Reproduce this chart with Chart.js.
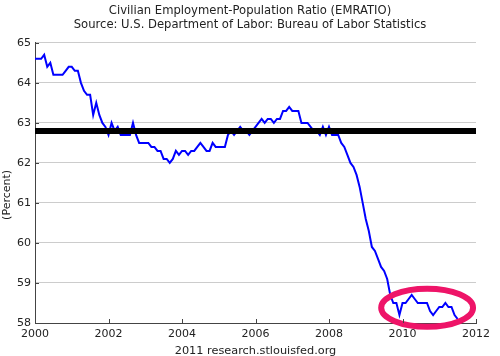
<!DOCTYPE html>
<html><head><meta charset="utf-8">
<style>html,body{margin:0;padding:0;background:#fff;}canvas{display:block}</style>
<script src="https://cdn.jsdelivr.net/npm/chart.js@4/dist/chart.umd.min.js"></script>
</head><body>
<canvas id="c" width="500" height="356"></canvas>
<script>
const titleLines = ['Civilian Employment-Population Ratio (EMRATIO)', 'Source: U.S. Department of Labor: Bureau of Labor Statistics'];
const sourceNote = '2011 research.stlouisfed.org';
const yAxisTitle = '(Percent)';
const startYear = 2000;
// Monthly employment-population ratio, percent
const ratio2000 = [64.6, 64.6, 64.6, 64.7, 64.4, 64.5, 64.2, 64.2, 64.2, 64.2, 64.3, 64.4];
const ratio2001 = [64.4, 64.3, 64.3, 64.0, 63.8, 63.7, 63.7, 63.2, 63.5, 63.2, 63.0, 62.9];
const ratio2002 = [62.7, 63.0, 62.8, 62.9, 62.7, 62.7, 62.7, 62.7, 63.0, 62.7, 62.5, 62.5];
const ratio2003 = [62.5, 62.5, 62.4, 62.4, 62.3, 62.3, 62.1, 62.1, 62.0, 62.1, 62.3, 62.2];
const ratio2004 = [62.3, 62.3, 62.2, 62.3, 62.3, 62.4, 62.5, 62.4, 62.3, 62.3, 62.5, 62.4];
const ratio2005 = [62.4, 62.4, 62.4, 62.7, 62.8, 62.7, 62.8, 62.9, 62.8, 62.8, 62.7, 62.8];
const ratio2006 = [62.9, 63.0, 63.1, 63.0, 63.1, 63.1, 63.0, 63.1, 63.1, 63.3, 63.3, 63.4];
const ratio2007 = [63.3, 63.3, 63.3, 63.0, 63.0, 63.0, 62.9, 62.8, 62.8, 62.7, 62.9, 62.7];
const ratio2008 = [62.9, 62.7, 62.7, 62.7, 62.5, 62.4, 62.2, 62.0, 61.9, 61.7, 61.4, 61.0];
const ratio2009 = [60.6, 60.3, 59.9, 59.8, 59.6, 59.4, 59.3, 59.1, 58.7, 58.5, 58.5, 58.2];
const ratio2010 = [58.5, 58.5, 58.6, 58.7, 58.6, 58.5, 58.5, 58.5, 58.5, 58.3, 58.2, 58.3];
const ratio2011 = [58.4, 58.4, 58.5, 58.4, 58.4, 58.2, 58.1];
const referenceLevel = 62.8;
const xTicks = [2000, 2002, 2004, 2006, 2008, 2010, 2012];
const yTicks = [58, 59, 60, 61, 62, 63, 64, 65];
const highlightCenter = {x: 2010.67, y: 58.38};
const highlightRadius = {x: 1.25, y: 0.475};

const yearly = [ratio2000, ratio2001, ratio2002, ratio2003, ratio2004, ratio2005, ratio2006, ratio2007, ratio2008, ratio2009, ratio2010, ratio2011];
const series = [];
yearly.forEach((arr, yi) => arr.forEach((v, m) => series.push({x: startYear + yi + m / 12, y: v})));
const refLine = [{x: xTicks[0], y: referenceLevel}, {x: xTicks[xTicks.length - 1], y: referenceLevel}];

const FONT = 'DejaVu Sans';
const AXIS = '#444';
const TEXT = '#222';

const innerTicks = {
  id: 'innerTicks',
  afterDraw(chart) {
    const {ctx, chartArea: a, scales: {x, y}} = chart;
    ctx.save();
    ctx.strokeStyle = AXIS; ctx.lineWidth = 1;
    ctx.beginPath();
    xTicks.forEach(v => { const px = Math.round(x.getPixelForValue(v)) + 0.5; ctx.moveTo(px, a.bottom); ctx.lineTo(px, a.bottom - 4); });
    yTicks.forEach(v => { const py = Math.round(y.getPixelForValue(v)) + 0.5; ctx.moveTo(a.left, py); ctx.lineTo(a.left + 4, py); });
    ctx.stroke();
    // y-axis title
    ctx.fillStyle = TEXT;
    ctx.font = '11px "' + FONT + '"';
    ctx.textAlign = 'center'; ctx.textBaseline = 'middle';
    ctx.translate(7, (a.top + a.bottom) / 2 + 12);
    ctx.rotate(-Math.PI / 2);
    ctx.fillText(yAxisTitle, 0, 0);
    ctx.restore();
  }
};
const highlightRing = {
  id: 'highlightRing',
  afterDatasetsDraw(chart) {
    const {ctx, scales: {x, y}} = chart;
    const cx = x.getPixelForValue(highlightCenter.x), cy = y.getPixelForValue(highlightCenter.y);
    const rx = x.getPixelForValue(highlightCenter.x + highlightRadius.x) - cx;
    const ry = y.getPixelForValue(highlightCenter.y - highlightRadius.y) - cy;
    ctx.save();
    ctx.strokeStyle = '#ee1468'; ctx.lineWidth = 6;
    ctx.beginPath(); ctx.ellipse(cx, cy, rx, ry, 0, 0, Math.PI * 2); ctx.stroke();
    ctx.restore();
  }
};

new Chart(document.getElementById('c'), {
  type: 'line',
  data: {
    datasets: [
      {data: refLine, borderColor: '#000', borderWidth: 6, pointRadius: 0, order: 0, borderCapStyle: 'butt'},
      {data: series, borderColor: '#0000ff', borderWidth: 2, pointRadius: 0, tension: 0, order: 1}
    ]
  },
  options: {
    responsive: false, animation: false, devicePixelRatio: 1,
    layout: {padding: {left: 0, right: 0, top: 0, bottom: 0}},
    plugins: {
      legend: {display: false}, tooltip: {enabled: false},
      title: {display: true, text: titleLines, color: TEXT, font: {family: FONT, size: 11.6, weight: 'normal', lineHeight: 1.2}, padding: {top: 4, bottom: 11}}
    },
    scales: {
      x: {
        type: 'linear', min: xTicks[0], max: xTicks[xTicks.length - 1],
        afterBuildTicks: s => { s.ticks = xTicks.map(v => ({value: v})); },
        afterFit: s => { s.height = 33; },
        grid: {display: false, drawTicks: false},
        border: {display: true, color: AXIS, width: 1},
        ticks: {color: TEXT, font: {family: FONT, size: 11}, padding: 5, maxRotation: 0, autoSkip: false, callback: v => String(v)},
        title: {display: true, text: sourceNote, color: TEXT, font: {family: FONT, size: 11.3}, padding: {top: 0, bottom: -2}}
      },
      y: {
        min: yTicks[0], max: yTicks[yTicks.length - 1],
        afterBuildTicks: s => { s.ticks = yTicks.map(v => ({value: v})); },
        afterFit: s => { s.width = 35; },
        grid: {color: '#cccccc', drawTicks: false},
        border: {display: true, color: AXIS, width: 1},
        ticks: {color: TEXT, font: {family: FONT, size: 11}, padding: 4, callback: v => String(v)}
      },
      yRight: {
        position: 'right', display: true,
        afterFit: s => { s.width = 24; },
        grid: {display: false, drawTicks: false},
        border: {display: false},
        ticks: {display: false}
      }
    }
  },
  plugins: [innerTicks, highlightRing]
});
</script>
</body></html>
